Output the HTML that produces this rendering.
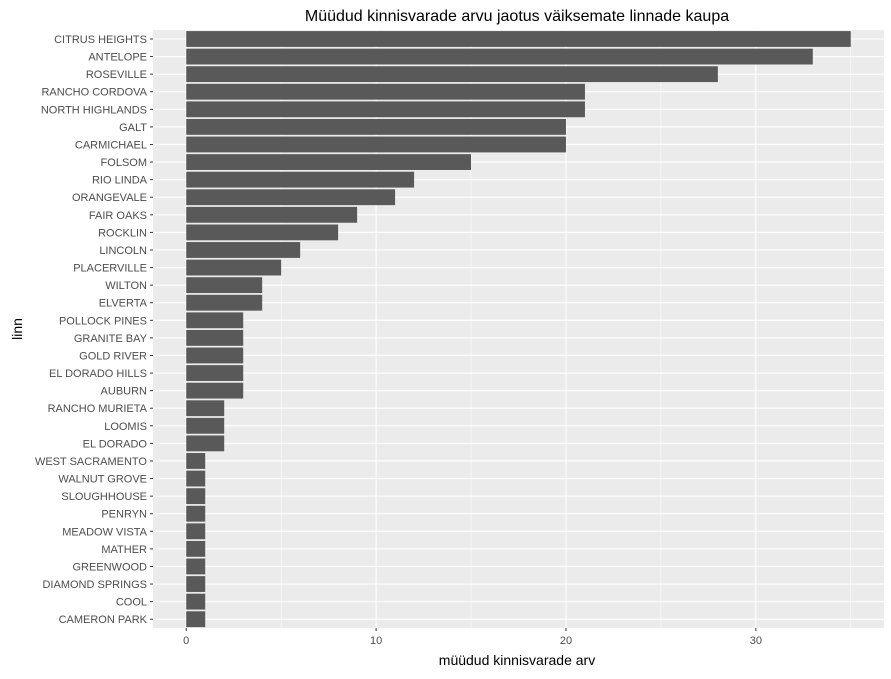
<!DOCTYPE html>
<html><head><meta charset="utf-8"><style>
body{margin:0;background:#fff;font-family:"Liberation Sans",Arial,sans-serif}
svg text{font-family:"Liberation Sans",Arial,sans-serif}
</style></head><body>
<svg id="chart" width="891" height="674" xmlns="http://www.w3.org/2000/svg"></svg>
<script>
const categories = ["CITRUS HEIGHTS","ANTELOPE","ROSEVILLE","RANCHO CORDOVA","NORTH HIGHLANDS","GALT","CARMICHAEL","FOLSOM","RIO LINDA","ORANGEVALE","FAIR OAKS","ROCKLIN","LINCOLN","PLACERVILLE","WILTON","ELVERTA","POLLOCK PINES","GRANITE BAY","GOLD RIVER","EL DORADO HILLS","AUBURN","RANCHO MURIETA","LOOMIS","EL DORADO","WEST SACRAMENTO","WALNUT GROVE","SLOUGHHOUSE","PENRYN","MEADOW VISTA","MATHER","GREENWOOD","DIAMOND SPRINGS","COOL","CAMERON PARK"];
const values = [35,33,28,21,21,20,20,15,12,11,9,8,6,5,4,4,3,3,3,3,3,2,2,2,1,1,1,1,1,1,1,1,1,1];
const xTicks = [0,10,20,30];
const xMinor = [5,15,25,35];

const NS="http://www.w3.org/2000/svg";
const svg=document.getElementById('chart');
const L=153, R=884, T=30.2, B=628;
const xmin=-1.75, xmax=36.75;
const x=v=>L+(v-xmin)/(xmax-xmin)*(R-L);
const step=(B-T)/categories.length;
const y=i=>T+step*(i+0.5);
function el(tag,attrs,parent){const e=document.createElementNS(NS,tag);for(const k in attrs)e.setAttribute(k,attrs[k]);(parent||svg).appendChild(e);return e;}

const bg=el('rect',{x:L,y:T,width:R-L,height:B-T,fill:'#EBEBEB'});



xMinor.forEach(v=>{const l=el('line',{x1:x(v),x2:x(v),y1:T,y2:B,stroke:'#fff','stroke-width':0.55});

});
xTicks.forEach(v=>{const l=el('line',{x1:x(v),x2:x(v),y1:T,y2:B,stroke:'#fff','stroke-width':1.1});

});
categories.forEach((c,i)=>{const l=el('line',{x1:L,x2:R,y1:y(i),y2:y(i),stroke:'#fff','stroke-width':1.1});

});

categories.forEach((c,i)=>{
  const h=step*0.9;
  const b=el('rect',{x:x(0),y:y(i)-h/2,width:x(values[i])-x(0),height:h,fill:'#595959'});
  
  
  const t=el('line',{x1:L-3,x2:L,y1:y(i),y2:y(i),stroke:'#333','stroke-width':1});
  
  
  const lb=el('text',{x:L-6,y:y(i)+4,'text-anchor':'end','font-size':'11',fill:'#4D4D4D'});
  lb.textContent=c;
  
  
});
xTicks.forEach(v=>{
  const t=el('line',{x1:x(v),x2:x(v),y1:B,y2:B+3,stroke:'#333','stroke-width':1});
  
  
  const lb=el('text',{x:x(v),y:B+16,'text-anchor':'middle','font-size':'11',fill:'#4D4D4D'});
  lb.textContent=v;
  
  
});
const title=el('text',{x:517,y:21,'text-anchor':'middle','font-size':'16',fill:'#000'});
title.textContent='Müüdud kinnisvarade arvu jaotus väiksemate linnade kaupa';


const xt=el('text',{x:517,y:665,'text-anchor':'middle','font-size':'14',fill:'#000'});
xt.textContent='müüdud kinnisvarade arv';


const yt=el('text',{x:0,y:0,'text-anchor':'middle','font-size':'14',fill:'#000',transform:'translate(22,329) rotate(-90)'});
yt.textContent='linn';


</script>
</body></html>
